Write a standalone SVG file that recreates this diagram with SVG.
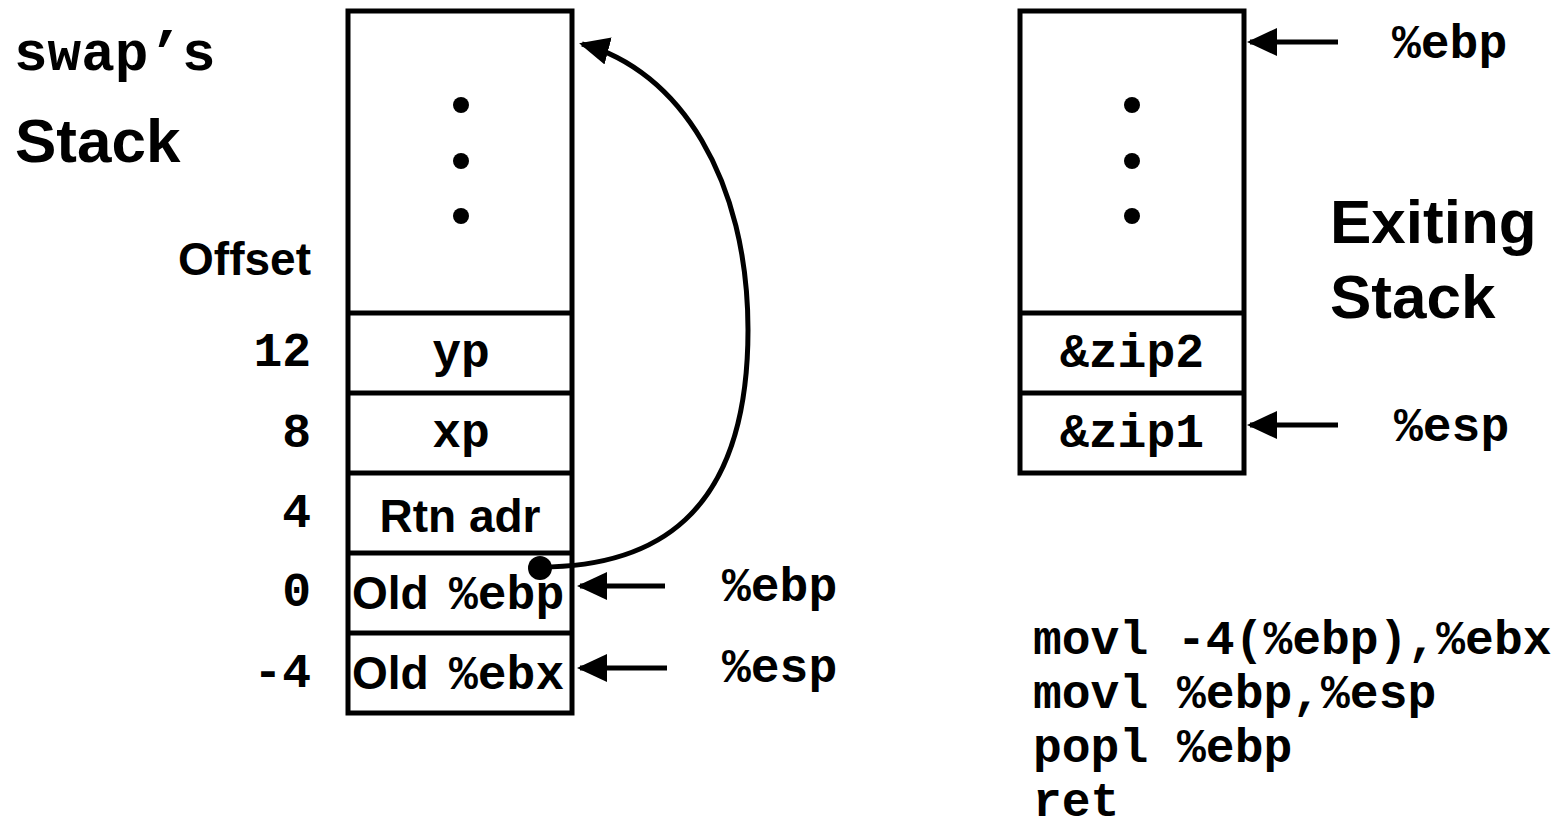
<svg xmlns="http://www.w3.org/2000/svg" width="1562" height="828" viewBox="0 0 1562 828">
<style>
.box{fill:#fff;stroke:#000;stroke-width:5}
.div{stroke:#000;stroke-width:5}
.mono{font-family:"Liberation Mono","Courier New",monospace;font-weight:bold;fill:#000}
.sans{font-family:"Liberation Sans",Arial,sans-serif;font-weight:bold;fill:#000}
.arr{stroke:#000;stroke-width:5;fill:none}
</style>
<defs>
<marker id="ah" viewBox="0 0 30 28" refX="27" refY="14" markerWidth="30" markerHeight="28" markerUnits="userSpaceOnUse" orient="auto">
<path d="M0,0 L30,14 L0,28 z" fill="#000"/>
</marker>
</defs>
<rect width="1562" height="828" fill="#fff"/>

<g id="title-left">
<text class="mono" x="14" y="70" font-size="56">swap’s</text>
<text class="sans" x="15" y="162" font-size="62">Stack</text>
</g>
<text class="sans" x="311" y="275" font-size="46" text-anchor="end">Offset</text>

<g id="left-stack">
<rect class="box" x="348" y="11" width="224" height="702"/>
<line class="div" x1="348" y1="313" x2="572" y2="313"/>
<line class="div" x1="348" y1="393" x2="572" y2="393"/>
<line class="div" x1="348" y1="473" x2="572" y2="473"/>
<line class="div" x1="348" y1="553" x2="572" y2="553"/>
<line class="div" x1="348" y1="633" x2="572" y2="633"/>
<circle cx="461" cy="105" r="8"/>
<circle cx="461" cy="161" r="8"/>
<circle cx="461" cy="216" r="8"/>
</g>
<g id="cell-yp"><text class="mono" x="461" y="367" font-size="48" text-anchor="middle">yp</text></g>
<g id="cell-xp"><text class="mono" x="461" y="447" font-size="48" text-anchor="middle">xp</text></g>
<g id="cell-rtn"><text class="sans" x="460" y="532" font-size="46" text-anchor="middle">Rtn adr</text></g>
<g id="cell-oldebp"><text class="sans" x="352" y="609" font-size="46">Old</text><text class="mono" x="449" y="609" font-size="48">%ebp</text></g>
<g id="cell-oldebx"><text class="sans" x="352" y="689" font-size="46">Old</text><text class="mono" x="449" y="689" font-size="48">%ebx</text></g>

<g id="offsets" class="mono" font-size="48" text-anchor="end">
<text x="311" y="366">12</text>
<text x="311" y="447">8</text>
<text x="311" y="527">4</text>
<text x="311" y="606">0</text>
<text x="311" y="687">-4</text>
</g>

<g id="left-labels" class="mono" font-size="48">
<text x="722" y="601">%ebp</text>
<text x="722" y="682">%esp</text>
</g>

<g id="right-stack">
<rect class="box" x="1020" y="11" width="224" height="462"/>
<line class="div" x1="1020" y1="313" x2="1244" y2="313"/>
<line class="div" x1="1020" y1="393" x2="1244" y2="393"/>
<circle cx="1132" cy="105" r="8"/>
<circle cx="1132" cy="161" r="8"/>
<circle cx="1132" cy="216" r="8"/>
</g>
<g id="cell-zip2"><text class="mono" x="1132" y="367" font-size="48" text-anchor="middle">&amp;zip2</text></g>
<g id="cell-zip1"><text class="mono" x="1132" y="447" font-size="48" text-anchor="middle">&amp;zip1</text></g>

<g id="right-labels" class="mono" font-size="48">
<text x="1392" y="58">%ebp</text>
<text x="1394" y="441">%esp</text>
</g>

<g id="title-right" class="sans" font-size="62">
<text x="1330" y="243">Exiting</text>
<text x="1330" y="318">Stack</text>
</g>

<g id="code" class="mono" font-size="48">
<text x="1033" y="654">movl -4(%ebp),%ebx</text>
<text x="1033" y="708">movl %ebp,%esp</text>
<text x="1033" y="762">popl %ebp</text>
<text x="1033" y="816">ret</text>
</g>

<g id="connectors">
<line class="arr" x1="665" y1="586" x2="580" y2="586" marker-end="url(#ah)"/>
<line class="arr" x1="667" y1="668" x2="580" y2="668" marker-end="url(#ah)"/>
<line class="arr" x1="1338" y1="42" x2="1250" y2="42" marker-end="url(#ah)"/>
<line class="arr" x1="1338" y1="425" x2="1250" y2="425" marker-end="url(#ah)"/>
<path class="arr" d="M540,567 C650,567 748,520 748,330 C748,180 680,70 582,44" marker-end="url(#ah)"/>
<circle cx="540" cy="568" r="12" fill="#000"/>
</g>
</svg>
